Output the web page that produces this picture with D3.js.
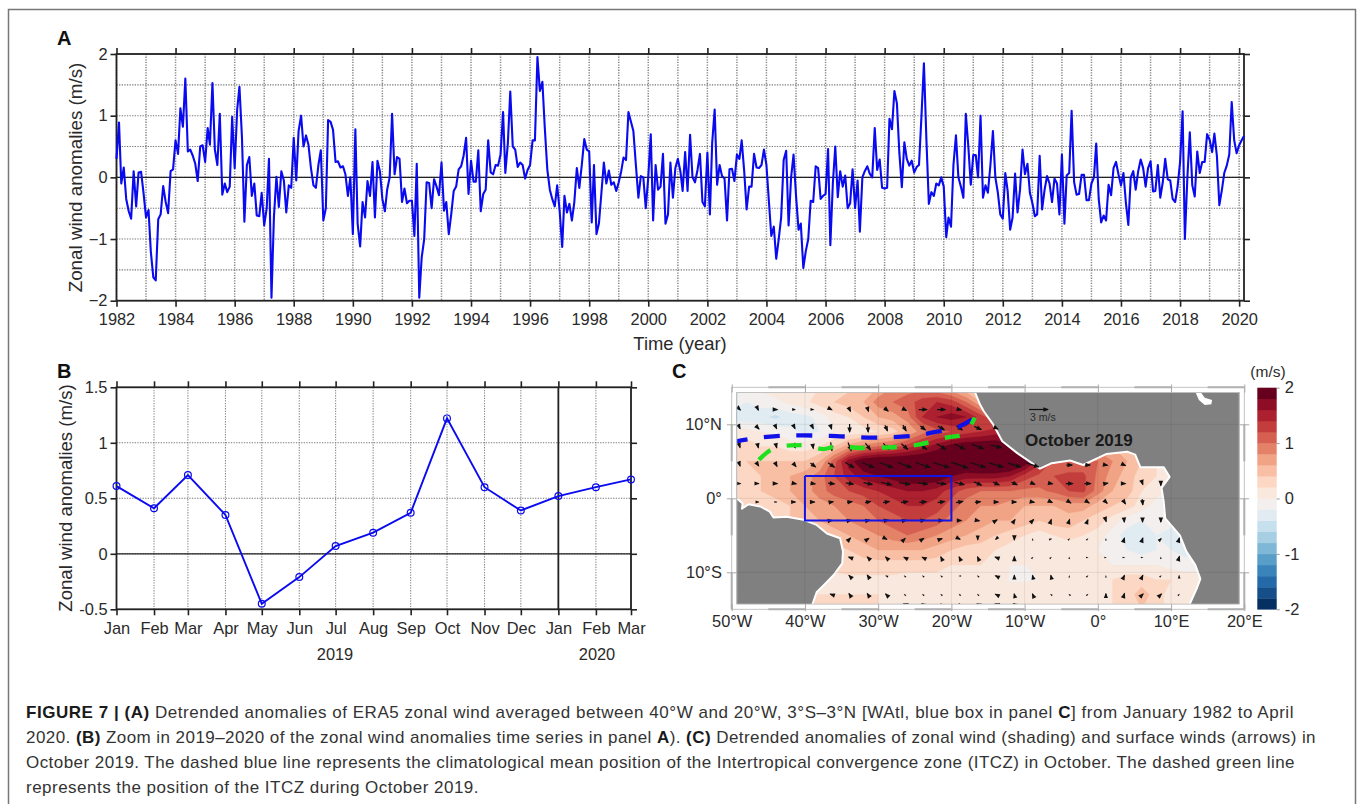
<!DOCTYPE html>
<html><head><meta charset="utf-8">
<script src="https://cdn.jsdelivr.net/npm/d3@7"></script>
<style>
html,body{margin:0;padding:0;background:#fff}
svg{display:block}
text{font-family:"Liberation Sans",Arial,sans-serif;fill:#2a2a2a}
</style></head><body><div id="chart"></div>
<script>
// ---------- Panel A: monthly anomalies Jan 1982 .. Dec 2018 (2019-20 come from panel B arrays)
const monthlyA = [
 0.3,0.89,-0.1,0.16,-0.35,-0.55,-0.67,0.1,-0.47,0.08,0.09,-0.25,
 -0.65,-0.53,-1.2,-1.62,-1.67,-0.68,-0.6,-0.14,-0.4,-0.58,0.1,0.13,
 0.6,0.38,1.12,0.82,1.6,0.42,0.45,0.35,0.22,-0.06,0.5,0.52,
 0.25,0.8,0.53,1.53,0.45,0.2,1.03,-0.28,-0.1,-0.24,-0.15,0.98,
 0.15,1.1,1.47,0.65,-0.72,0.2,0.33,-0.3,-0.1,-0.62,-0.63,-0.25,
 -0.78,-0.5,0.3,-1.95,-0.65,0.01,-0.48,0.1,-0.05,-0.57,-0.13,-0.17,
 0.64,-0.05,0.75,1.0,0.5,0.68,0.53,0.15,-0.13,-0.17,0.2,0.44,
 -0.7,-0.5,0.93,0.9,0.77,0.25,0.26,0.16,0.18,0.05,-0.3,0,
 -0.92,0.78,-0.75,-1.12,-0.4,-0.65,-0.06,-0.3,0.25,-0.65,0.27,0.1,
 -0.35,-0.55,-0.2,0,1.03,0.05,0.33,0.3,-0.4,-0.18,-0.42,-0.38,
 -0.38,-0.95,0.22,-1.95,-1.3,-1.0,-0.08,-0.09,-0.5,-0.03,-0.15,-0.29,
 0.24,-0.54,-0.4,-0.92,-0.6,-0.22,-0.15,0.13,0.18,0.35,0.64,-0.27,
 0.27,-0.07,-0.07,0.44,-0.55,-0.27,-0.2,0.6,0.08,0.05,0.2,0.19,
 0.37,1.06,0.07,0.55,1.39,0.5,0.45,0.17,0.24,0.2,-0.02,0.12,
 0.2,0.6,0.6,1.95,1.4,1.55,0.8,0.13,-0.2,-0.35,-0.47,-0.13,
 -0.55,-1.13,-0.3,-0.57,-0.43,-0.7,-0.4,0.15,-0.17,0.2,0.62,0.45,
 0.42,-0.73,0.2,-0.92,-0.75,-0.25,0.24,-0.1,0.11,-0.12,-0.08,-0.22,
 -0.08,0.1,0.32,0.28,1.06,0.9,0.75,0.2,-0.33,0.02,0,-0.5,
 0,0.7,-0.7,0.2,-0.2,-0.15,0.38,-0.75,-0.6,0.24,-0.33,0.15,
 0.3,0.1,-0.22,0.41,-0.22,0.69,0,-0.08,0.12,0.38,-0.4,-0.47,
 0.4,-0.6,0.55,1.1,-0.12,0.2,0.02,-0.02,-0.7,0.13,0.14,-0.06,
 0.37,0.3,0.6,0.1,-0.52,-0.15,-0.15,0.38,0.16,0.15,0.2,0.45,
 0.2,-0.4,-0.95,-0.8,-1.32,-1.0,-0.65,0.28,0.43,-0.78,0,0.37,
 -0.3,-0.85,-0.75,-1.47,-1.2,-1.0,-0.38,-0.4,0.18,0.15,-0.35,-0.3,
 -0.27,0.46,-1.1,-0.1,0.5,-0.32,0.1,-0.15,0.03,-0.5,-0.42,0.13,
 -0.5,-0.05,-0.88,0,0.1,0.18,0.06,0,0.8,0.12,0.29,-0.17,
 -0.18,-0.17,0.95,0.78,1.4,1.2,0.4,-0.16,0.57,0.3,0.19,0.27,
 0.08,0.17,0.2,1.0,1.85,0.6,-0.43,-0.24,-0.3,-0.1,-0.13,0,
 -0.15,-0.97,-0.65,-0.8,0.2,0.68,0,-0.15,-0.33,1.03,0.5,-0.12,
 0.36,0.36,0,1.0,-0.33,-0.13,-0.25,0.2,0.75,0,-0.25,-0.6,
 -0.67,0.07,-0.22,-0.85,-0.65,0.06,-0.57,-0.2,0.45,0.05,0.22,-0.25,
 -0.42,-0.63,-0.6,0.35,-0.52,-0.2,0.02,-0.1,-0.4,-0.02,-0.1,-0.6,
 0.37,-0.75,0.03,0.07,1.08,-0.08,-0.28,-0.27,0.04,0.04,-0.37,-0.37,
 -0.1,0,0.55,-0.35,-0.73,-0.62,-0.7,-0.12,-0.29,0.15,0.25,0.05,
 -0.13,0.07,-0.4,-0.77,0,0.1,-0.2,0.1,0.29,0.15,-0.15,0.15,
 0.26,-0.23,-0.22,0.2,-0.33,-0.08,0.3,-0.03,-0.05,-0.35,-0.4,-0.15,
 0.25,1.07,-1.0,0,0.73,-0.13,-0.31,0.42,0.07,0.25,0.25,0.7
];
const yearTicksA = [1982,1984,1986,1988,1990,1992,1994,1996,1998,2000,2002,2004,2006,2008,2010,2012,2014,2016,2018,2020];
const yTicksA = [-2,-1,0,1,2];
const yGridA = [-2,-1.5,-1,-0.5,0,0.5,1,1.5,2];

// ---------- Panel B
const monthNamesB = ["Jan","Feb","Mar","Apr","May","Jun","Jul","Aug","Sep","Oct","Nov","Dec","Jan","Feb","Mar"];
const valuesB = [0.61,0.41,0.71,0.35,-0.45,-0.21,0.07,0.19,0.37,1.22,0.6,0.39,0.52,0.6,0.67];
const yTicksB = [-0.5,0,0.5,1,1.5];

// ---------- Panel C: zonal wind anomaly field, 2 degree grid
const fieldLons = d3.range(-50,21,2);
const fieldLats = [15,13,11,9,7,5,3,1,-1,-3,-5,-7,-9,-11,-13,-15];
const fieldValues = [
 .05,.05,.05,.1,.1,.15, .2,.3,.35,.4,.6,.8, .9,.9,.8,.6,.4,-.2, -.3,0,0,0,0,0, 0,0,0,0,0,0, 0,0,0,0,0,0,
 -.05,-.2,-.1,-.05,.05,.15, .3,.4,.5,.6,.9,1, 1.1,1.3,1.4,1.3,1,.6, .4,0,0,0,0,0, 0,0,0,0,0,0, 0,0,0,0,0,0,
 -.3,-.4,-.35,-.45,-.3,-.25, -.15,.1,.2,.4,.6,.7, .9,1.4,1.6,1.7,1.6,1.3, 1,.8,.5,0,0,0, 0,0,0,0,0,0, 0,0,0,0,0,0,
 .1,.1,0,-.05,-.15,-.25, -.2,0,.05,.1,.2,.3, .6,.9,1.1,1.2,1.3,1.4, 1.5,1.4,1,.5,.5,.5, 0,0,0,0,0,0, 0,0,0,0,0,0,
 .3,.3,.2,.2,.1,.1, .2,.4,.7,.9,1,1.1, 1.3,1.5,1.7,1.9,2,2, 2,1.9,1.5,1.2,1,.8, .7,.7,.6,.5,.4,.2, 0,0,0,0,0,0,
 .3,.4,.4,.4,.4,.4, .6,1.1,1.7,2,2.1,2.1, 2.1,2.1,2.1,2.1,2.1,2.2, 2.2,2.2,2,1.5,1.15,1.05, 1.05,1,.8,.6,.4,.2, 0,0,0,0,0,0,
 .3,.3,.4,.5,.6,.7, .9,1.2,1.5,1.7,1.8,1.9, 2,2,2,1.8,1.7,1.7, 1.7,1.6,1.3,1.15,1.2,1.25, 1.25,.95,.7,.5,.3,.2, 0,0,0,0,0,0,
 .3,.3,.4,.5,.6,.7, .9,1.1,1.2,1.3,1.4,1.5, 1.6,1.6,1.5,1.3,1.1,1, 1,1,.95,.95,1.05,1.2, 1.25,.9,.6,.5,.2,.1, -.1,-.1,0,0,0,0,
 .2,.2,.2,.3,.4,.6, .7,.8,.9,1,1.2,1.3, 1.4,1.4,1.3,1.1,.9,.8, .8,.7,.6,.6,.6,.7, .7,.5,.4,.3,.1,-.1, -.2,-.2,0,0,0,0,
 .2,.2,.2,.3,.4,.4, .6,.7,.8,.9,1,1.1, 1.2,1.2,1.1,.9,.8,.7, .6,.6,.5,.4,.5,.5, .4,.3,.1,-.1,-.2,-.1, -.1,-.2,-.2,0,0,0,
 .2,.2,.2,.3,.4,.4, .4,.5,.6,.7,.8,.9, 1,.9,.8,.7,.6,.5, .4,.3,.2,.1,.2,.3, .2,.1,-.1,-.3,-.3,-.2, -.3,-.3,-.2,0,0,0,
 .3,.3,.3,.3,.3,.3, .3,.3,.4,.5,.6,.6, .6,.6,.5,.4,.3,.3, .2,.1,.05,.1,.1,0, 0,0,-.1,-.2,-.3,-.2, -.2,-.3,-.2,0,0,0,
 .2,.2,.2,.2,.2,.2, .2,.3,.3,.3,.3,.3, .3,.3,.3,.2,.2,.2, .1,0,0,.1,.1,0, 0,0,0,0,0,0, -.1,-.1,-.1,0,0,0,
 .1,.1,.1,.1,.1,.1, .1,.1,.15,.15,.15,.15, .1,.1,.1,.1,.1,.15, .1,-.02,-.02,0,.1,.1, .1,.1,.2,.3,.3,.2, .2,.1,.1,0,0,0,
 .2,.2,.2,.2,.2,.2, .2,.2,.2,.2,.2,.1, .1,.1,0,0,.1,.1, .05,.1,.1,.1,.2,.1, .1,.1,.2,.3,.5,.3, .1,.1,.1,0,0,0,
 .2,.2,.2,.2,.2,.2, .2,.2,.2,.2,.2,.1, .1,.1,0,0,.1,.1, .1,.1,.1,.1,.2,.1, .1,.1,.2,.3,.4,.3, .1,.1,0,0,0,0
];
const shadeLevels = d3.range(20).map(i => +(-2 + i*0.2).toFixed(1));
const shadeColors = d3.range(20).map(i => i>=10 ? d3.interpolateRdBu(.45*(1-(i-10)/9)) : d3.interpolateRdBu(.5+.5*(9-i)/9));

// Coasts and lines in lon/lat
const southAmerica = [[-52,-0.1],[-49.2,-0.1],[-48.5,-0.7],[-48.6,-1.4],[-47.7,-0.8],[-46.1,-1.1],[-44.8,-1.8],[-44.3,-2.6],[-42.5,-2.5],[-40.2,-2.9],[-38.4,-3.6],[-37,-4.75],[-35.2,-5.4],[-34.8,-7.2],[-34.9,-8.8],[-36.1,-10.4],[-37.5,-11.8],[-38.4,-12.7],[-39,-14.4],[-39,-17],[-52,-17]];
const africa = [[-16.9,17],[-16.8,14.4],[-16.1,12.7],[-15.6,11.8],[-14.3,10],[-13.05,7.7],[-11,6.1],[-7.9,4],[-6.3,4.75],[-3.8,5.1],[-2,4.5],[1.2,6],[4,6.3],[5.1,5.9],[5.8,4.2],[9,4.2],[9.8,2.9],[8.7,1.4],[9,-0.5],[9.2,-2.7],[11.2,-5],[12.1,-7.2],[13.3,-9],[14,-10.9],[13.5,-12.2],[12.5,-14.4],[12,-17],[22,-17],[22,17]];
const lakeChad = [[13.3,14.4],[14,14.4],[14.6,13.6],[15.6,13.3],[15.5,12.7],[14.6,12.6],[13.8,13.3]];
const itczClim = [[-50,7.6],[-43.9,8.4],[-40.2,8.5],[-35.7,8.4],[-30.7,8.2],[-25.7,8.4],[-22,9],[-18.9,9.7],[-16.8,10.9]];
const itcz2019 = [[-46.3,5.2],[-44.5,6.6],[-42,7.15],[-40.2,7.2],[-37.5,6.65],[-35.7,7],[-32,6.8],[-28,6.9],[-24.3,7.3],[-20.7,8.2],[-18.4,8.6],[-16.8,10.9]];
const wAtlBox = [[-40,3],[-20,3],[-20,-3],[-40,-3],[-40,3]];

// Wind arrows (m/s), grid every 2.5 degrees; _ = land
const _ = null;
const windLons = d3.range(25).map(i => -48.9 + 2.5*i);
const windLats = [12,9.5,7,4.5,2,-0.5,-3,-5.5,-8,-10.5,-13,-14.3];
const windU = [
 [.2,.1,.3,.1,.1,.2,.3,.2,.6,.6,1.3,1.3,.6,_,_,_,_,_,_,_,_,_,_,_,_],
 [.1,.3,.1,.1,.1,.1,0,.1,.4,.5,.8,1,.9,1.1,.6,_,_,_,_,_,_,_,_,_,_],
 [.1,.1,.1,.2,.1,.2,.5,.8,.9,1,1.2,1.4,1.6,1.8,1.6,_,_,_,_,_,_,_,_,_,_],
 [.1,.2,.2,.4,.8,1,1.4,1.9,2.1,2.2,2.3,2.5,2.6,2.4,2.2,2,1.9,_,.9,.8,.5,.4,_,_,_],
 [.2,.2,.3,.5,.7,1,1.2,1.4,1.7,1.7,1.5,1.5,1.5,1.2,1,.9,.7,.5,1.1,1,.6,.4,.1,0,_],
 [_,.1,.05,.2,.5,.6,.8,.9,1,1.1,1.1,1.1,1.1,.9,.7,.6,.5,.4,.5,.5,.4,.4,.1,_,_],
 [_,_,_,_,_,.3,.5,.6,.7,.6,.7,.6,.6,.5,.3,.2,.3,.1,.1,.1,.1,.05,0,0,_],
 [_,_,_,_,_,_,.3,.3,.2,.2,.3,.3,.2,0,-.1,0,0,.05,.02,.02,0,.1,.1,.1,.1],
 [_,_,_,_,_,_,-.3,-.2,-.2,-.2,-.2,-.1,-.1,-.1,-.3,0,.02,.02,0,.02,.02,.02,.02,0,.1],
 [_,_,_,_,_,_,-.2,-.2,-.05,-.02,-.02,-.02,-.02,-.02,-.2,0,-.05,-.05,0,.02,0,.1,.1,.02,0],
 [_,_,_,_,_,-.3,-.2,-.2,-.2,-.02,-.02,-.02,-.02,-.02,-.2,-.05,-.1,-.02,-.02,.02,0,.1,.2,.2,.02],
 [_,_,_,_,_,_,_,_,_,-.3,-.3,-.05,-.1,-.2,-.3,-.3,_,_,_,_,_,_,_,_,_]
];
const windV = [
 [-.2,-.2,0,0,0,-.1,-.6,-.6,-.5,-.3,0,0,-.1,_,_,_,_,_,_,_,_,_,_,_,_],
 [-.2,-.3,-.2,-.2,-.2,-.3,-1.3,-1.3,-.9,-.9,-.6,-.6,-.6,-.5,-.3,_,_,_,_,_,_,_,_,_,_],
 [-.3,-.4,-.4,-.4,-.6,-1.3,-1.3,-1.1,-1,-.9,-.9,-.9,-.8,-.7,-.4,_,_,_,_,_,_,_,_,_,_],
 [-.3,-.3,-.4,-.5,-.6,-.7,-.8,-.8,-.8,-.8,-.8,-.8,-.9,-.8,-.7,-.6,-.6,_,0,0,-.1,-.2,_,_,_],
 [0,0,0,-.1,-.1,-.1,-.2,-.3,-.4,-.3,-.2,-.2,-.4,-.5,-.4,-.4,-.3,-.1,0,0,.1,0,-.3,-.6,_],
 [_,0,0,0,0,.1,.1,.2,.2,.2,.1,.2,.2,.1,0,0,-.1,-.2,-.3,-.3,-.4,-.6,-.9,_,_],
 [_,_,_,_,_,.05,.1,.1,.1,.1,.1,0,0,-.1,.2,.3,.3,.3,.3,.25,-.3,-.5,-.5,-.5,_],
 [_,_,_,_,_,_,.3,.2,-.1,.2,.2,.1,-.1,-.2,-.1,-.3,.02,.02,.02,.02,.02,.3,.3,.1,.3],
 [_,_,_,_,_,_,.1,.2,.2,.1,.1,.2,.2,.2,.1,.3,.02,.02,.02,0,0,0,0,.02,.3],
 [_,_,_,_,_,_,.2,.3,.02,.02,.02,.02,0,.02,.1,.2,.2,.2,.02,.02,.02,.2,.2,.02,.1],
 [_,_,_,_,_,.1,.3,.3,.2,.02,.02,.02,.02,.02,.1,.2,.2,.02,.02,.02,.2,.3,.2,.2,.02],
 [_,_,_,_,_,_,_,_,_,.1,.2,.1,.1,.1,.1,.2,_,_,_,_,_,_,_,_,_]
];
const lonTicks = [-50,-40,-30,-20,-10,0,10,20];
const latTicks = [-10,0,10];
const cbarTicks = [-2,-1,0,1,2];

// Caption runs: [text, bold]
const captionLines = [
 [["FIGURE 7 | (A)",1],[" Detrended anomalies of ERA5 zonal wind averaged between 40°W and 20°W, 3°S–3°N [WAtl, blue box in panel ",0],["C",1],["] from January 1982 to April",0]],
 [["2020. ",0],["(B)",1],[" Zoom in 2019–2020 of the zonal wind anomalies time series in panel ",0],["A",1],["). ",0],["(C)",1],[" Detrended anomalies of zonal wind (shading) and surface winds (arrows) in",0]],
 [["October 2019. The dashed blue line represents the climatological mean position of the Intertropical convergence zone (ITCZ) in October. The dashed green line",0]],
 [["represents the position of the ITCZ during October 2019.",0]]
];
const captionEnds = [1294,1316,1295,479];

// ---------- Drawing
const W = 1357, H = 804, ink = "#222", blue = "#0a0af0";
const svg = d3.select("#chart").append("svg").attr("width",W).attr("height",H).attr("viewBox",`0 0 ${W} ${H}`);
svg.append("rect").attr("width",W).attr("height",H).attr("fill","#fff");
svg.append("path").attr("d",`M8.5,${H}V9.5H1355.5V${H}`).attr("fill","none").attr("stroke","#777").attr("stroke-width",1.5);

function label(g,x,y,t,o={}){
  const s = g.append("text").attr("x",x).attr("y",y).text(t)
    .attr("font-size",o.size||16).attr("text-anchor",o.anchor||"middle");
  if(o.weight) s.attr("font-weight",o.weight);
  if(o.rotate) s.attr("transform",`rotate(-90 ${x} ${y})`);
  if(o.fill) s.style("fill",o.fill);
  return s;
}
function styleAxis(g,w,noText){
  g.selectAll(".domain").remove();
  g.selectAll(".tick line").attr("stroke",ink).attr("stroke-width",w||1.6);
  const t = g.selectAll(".tick text").attr("fill",null).style("font-size","16.4px");
  if(noText) t.remove();
}
function timePanel(o){
  const {x,y,xGrid,xTicks,yGrid,yTicks,fmt,yfmt} = o;
  const [x0,x1] = x.range(), [y1,y0] = y.range();
  const g = svg.append("g");
  g.append("g").selectAll("line").data(xGrid).join("line")
    .attr("x1",d=>x(d)).attr("x2",d=>x(d)).attr("y1",y0).attr("y2",y1)
    .attr("stroke","#8a8a8a").attr("stroke-width",o.gridW||1.1).attr("stroke-dasharray","1.3 1.3");
  g.append("g").selectAll("line").data(yGrid).join("line")
    .attr("x1",x0).attr("x2",x1).attr("y1",d=>y(d)).attr("y2",d=>y(d))
    .attr("stroke","#777").attr("stroke-width",1.1).attr("stroke-dasharray","1.3 1.3");
  g.append("line").attr("x1",x0).attr("x2",x1).attr("y1",y(0)).attr("y2",y(0)).attr("stroke",ink).attr("stroke-width",1.2);
  const mk = (a,tr,noText)=>{const s=g.append("g").attr("transform",tr).call(a); styleAxis(s,1.6,noText); return s;};
  mk(d3.axisBottom(x).tickValues(xTicks).tickSize(6).tickPadding(o.xPad||7).tickFormat(fmt),`translate(0,${y1})`);
  mk(d3.axisTop(x).tickValues(xTicks).tickSize(6).tickFormat(""),`translate(0,${y0})`,true);
  mk(d3.axisLeft(y).tickValues(yTicks).tickSize(6).tickPadding(3).tickFormat(yfmt),`translate(${x0},0)`);
  mk(d3.axisRight(y).tickValues(yTicks).tickSize(6).tickFormat(""),`translate(${x1},0)`,true);
  g.append("rect").attr("x",x0).attr("y",y0).attr("width",x1-x0).attr("height",y1-y0)
    .attr("fill","none").attr("stroke",ink).attr("stroke-width",1.8);
  return g;
}

// Panel A
const startA = Date.UTC(1982,0,1);
const allA = monthlyA.concat(valuesB);
const dateA = i => new Date(Date.UTC(1982,i,1));
const xA = d3.scaleUtc().domain([startA,Date.UTC(2020,2,1)]).range([116.5,1244]);
const yA = d3.scaleLinear().domain([-2,2]).range([300.7,54]);
const gA = timePanel({x:xA,y:yA,
  xGrid:d3.range(1982,2021).map(v=>new Date(Date.UTC(v,0,1))),
  xTicks:yearTicksA.map(v=>new Date(Date.UTC(v,0,1))),
  yGrid:yGridA,yTicks:yTicksA,fmt:d3.utcFormat("%Y"),yfmt:d3.format("d"),gridW:1.5});
gA.append("path").datum(allA)
  .attr("d",d3.line().x((d,i)=>xA(dateA(i))).y(d=>yA(d)))
  .attr("fill","none").attr("stroke",blue).attr("stroke-width",2.1).attr("stroke-linejoin","round");
label(svg,82,177.5,"Zonal wind anomalies (m/s)",{rotate:1,size:18.8});
label(svg,680,350,"Time (year)",{size:18.4});
label(svg,57,45,"A",{anchor:"start",size:20,weight:"bold",fill:"#111"});

// Panel B
const datesB = monthNamesB.map((m,i)=>new Date(Date.UTC(2019,i,1)));
const xB = d3.scaleUtc().domain([datesB[0],datesB[14]]).range([116.5,631]);
const yB = d3.scaleLinear().domain([-0.5,1.5]).range([609.3,387.3]);
const gB = timePanel({x:xB,y:yB,xGrid:datesB,xTicks:datesB,yGrid:yTicksB,yTicks:yTicksB,
  fmt:(d,i)=>monthNamesB[i],yfmt:d=>String(d),xPad:7});
gB.append("line").attr("x1",xB(datesB[12])).attr("x2",xB(datesB[12])).attr("y1",387.3).attr("y2",609.3).attr("stroke",ink).attr("stroke-width",1.8);
gB.append("path").datum(valuesB)
  .attr("d",d3.line().x((d,i)=>xB(datesB[i])).y(d=>yB(d)))
  .attr("fill","none").attr("stroke",blue).attr("stroke-width",1.9);
gB.append("g").selectAll("circle").data(valuesB).join("circle")
  .attr("cx",(d,i)=>xB(datesB[i])).attr("cy",d=>yB(d)).attr("r",3.4)
  .attr("fill","none").attr("stroke",blue).attr("stroke-width",1.2);
label(svg,72,498,"Zonal wind anomalies (m/s)",{rotate:1,size:18.6});
label(svg,335,660,"2019",{size:16.4});
label(svg,597,660,"2020",{size:16.4});
label(svg,57,378,"B",{anchor:"start",size:20,weight:"bold",fill:"#111"});

// Panel C
const lon = d3.scaleLinear().domain([-50,20]).range([731.7,1244.3]);
const lat = d3.scaleLinear().domain([-15,15]).range([609.3,387.3]);
const gC = svg.append("g");
const inner = {x:lon(-49.3),y:lat(14.3),w:lon(19.3)-lon(-49.3),h:lat(-14.3)-lat(14.3)};
svg.append("defs").append("clipPath").attr("id","mapClip").append("rect")
  .attr("x",inner.x).attr("y",inner.y).attr("width",inner.w).attr("height",inner.h);
const mapG = gC.append("g").attr("clip-path","url(#mapClip)");
const contours = d3.contours().size([fieldLons.length,fieldLats.length]).thresholds(shadeLevels)(fieldValues);
const gridPath = d3.geoPath(d3.geoTransform({point(px,py){
  this.stream.point(lon(-50+(px-.5)*2),lat(15-(py-.5)*2));
}}));
mapG.append("g").selectAll("path").data(contours).join("path")
  .attr("d",gridPath).attr("fill",(d,i)=>shadeColors[i]).attr("stroke",(d,i)=>shadeColors[i]).attr("stroke-width",.3);
const lineLL = d3.line().x(d=>lon(d[0])).y(d=>lat(d[1]));
mapG.selectAll(".land").data([southAmerica,africa]).join("path").attr("class","land")
  .attr("d",d=>lineLL(d)+"Z").attr("fill","#808080").attr("stroke","#fff").attr("stroke-width",2).attr("stroke-linejoin","round");
mapG.append("path").attr("d",lineLL(lakeChad)+"Z").attr("fill","#fff");
// grid lines
const gridC = gC.append("g").attr("stroke","#000").attr("stroke-opacity",.1).attr("stroke-width",.8);
gridC.selectAll(".v").data(lonTicks.slice(1,-1)).join("line").attr("class","v")
  .attr("x1",d=>lon(d)).attr("x2",d=>lon(d)).attr("y1",inner.y).attr("y2",inner.y+inner.h);
gridC.selectAll(".h").data(latTicks).join("line").attr("class","h")
  .attr("y1",d=>lat(d)).attr("y2",d=>lat(d)).attr("x1",inner.x).attr("x2",inner.x+inner.w);
// arrows
const arrowScale = 6.3;
function arrow(g,cx,cy,u,v){
  const dx=u*arrowScale, dy=-v*arrowScale, len=Math.hypot(dx,dy), a=Math.atan2(dy,dx);
  const x1=cx-dx/2,y1=cy-dy/2,x2=cx+dx/2,y2=cy+dy/2, h=Math.min(4.6,1.4+len*2.2), w=h*.5;
  g.append("line").attr("x1",x1).attr("y1",y1).attr("x2",x2).attr("y2",y2).attr("stroke","#111").attr("stroke-width",1.25);
  g.append("path").attr("fill","#111").attr("d",
    `M${x2+Math.cos(a)*1},${y2+Math.sin(a)*1}`+
    `L${x2-Math.cos(a)*h-Math.sin(a)*w},${y2-Math.sin(a)*h+Math.cos(a)*w}`+
    `L${x2-Math.cos(a)*h+Math.sin(a)*w},${y2-Math.sin(a)*h-Math.cos(a)*w}Z`);
}
const arrowsG = mapG.append("g");
windLats.forEach((la,r)=>windLons.forEach((lo,c)=>{
  const u=windU[r][c], v=windV[r][c];
  if(u===null||v===null) return;
  arrow(arrowsG,lon(lo),lat(la),u,v);
}));
// blue box & ITCZ
gC.append("path").attr("d",lineLL(wAtlBox)).attr("fill","none").attr("stroke","#1414e6").attr("stroke-width",2);
const curve = d3.line().x(d=>lon(d[0])).y(d=>lat(d[1])).curve(d3.curveMonotoneX);
mapG.append("path").attr("d",curve(itczClim)).attr("fill","none").attr("stroke","#1010e8").attr("stroke-width",4.3).attr("stroke-dasharray","16 16.5");
mapG.append("path").attr("d",curve(itcz2019)).attr("fill","none").attr("stroke","#1fe01f").attr("stroke-width",4.3).attr("stroke-dasharray","15 17");
// frame
const fr = gC.append("g").attr("fill","none").attr("stroke","#bdbdbd");
fr.append("rect").attr("x",lon(-50)).attr("y",lat(15)).attr("width",lon(20)-lon(-50)).attr("height",lat(-15)-lat(15)).attr("stroke-width",.9);
fr.append("rect").attr("x",inner.x).attr("y",inner.y).attr("width",inner.w).attr("height",inner.h).attr("stroke-width",.9);
d3.range(-45,20,10).forEach(a=>{
  [15,-15].forEach(b=>fr.append("line").attr("x1",lon(a)).attr("x2",lon(a+5)).attr("y1",lat(b)).attr("y2",lat(b)).attr("stroke-width",2).attr("stroke","#b0b0b0"));
});
d3.range(-15,15,10).forEach(a=>{
  [-50,20].forEach(b=>fr.append("line").attr("y1",lat(a)).attr("y2",lat(a+5)).attr("x1",lon(b)).attr("x2",lon(b)).attr("stroke-width",2).attr("stroke","#b0b0b0"));
});
const frameAxis = (a,tr)=>{
  const s=gC.append("g").attr("transform",tr).call(a);
  s.selectAll(".domain").remove();
  s.selectAll(".tick line").attr("stroke","#a8a8a8").attr("stroke-width",1);
  s.selectAll(".tick text").attr("fill",null).style("font-size","16.4px");
  return s;
};
const lonFmt = d=> d<0?`${-d}°W`:d>0?`${d}°E`:"0°";
const latFmt = d=> d<0?`${-d}°S`:d>0?`${d}°N`:"0°";
frameAxis(d3.axisBottom(lon).tickValues(lonTicks).tickSize(7).tickPadding(4).tickFormat(lonFmt),`translate(0,${lat(-14.3)})`);
frameAxis(d3.axisTop(lon).tickValues(lonTicks).tickSize(8).tickFormat(""),`translate(0,${lat(14.3)})`);
frameAxis(d3.axisLeft(lat).tickValues(latTicks).tickSize(10).tickPadding(5).tickFormat(latFmt),`translate(${lon(-49.3)},0)`);
frameAxis(d3.axisRight(lat).tickValues(latTicks).tickSize(10).tickFormat(""),`translate(${lon(19.3)},0)`);
// annotation
arrow(gC,lon(-8.1),lat(12),3,0);
label(gC,1030,421,"3 m/s",{anchor:"start",size:10.5});
label(gC,1025,446,"October 2019",{anchor:"start",size:17,weight:"bold",fill:"#1a1a1a"});
label(svg,672,378,"C",{anchor:"start",size:20,weight:"bold",fill:"#111"});

// Colour bar
const cbY = d3.scaleLinear().domain([-2,2]).range([609.3,387.7]);
const cb = svg.append("g");
cb.selectAll("rect").data(shadeLevels).join("rect")
  .attr("x",1257.3).attr("width",19.4)
  .attr("y",d=>cbY(d+0.2)).attr("height",d=>cbY(d)-cbY(d+0.2)+.3)
  .attr("fill",(d,i)=>shadeColors[i]);
const cbAx = cb.append("g").attr("transform","translate(1276.7,0)")
  .call(d3.axisRight(cbY).tickValues(cbarTicks).tickSize(3).tickPadding(5).tickFormat(String));
cbAx.selectAll(".domain").remove();
cbAx.selectAll(".tick line").attr("stroke","#999");
cbAx.selectAll(".tick text").attr("fill",null).style("font-size","16.4px");
label(svg,1268,377,"(m/s)",{size:15.5});

// Caption
const capBase = [718,743,768,793];
captionLines.forEach((runs,i)=>{
  const t = svg.append("text").attr("x",26).attr("y",capBase[i]).attr("font-size",17).style("fill","#333");
  runs.forEach(r=>t.append("tspan").text(r[0]).attr("font-weight",r[1]?"bold":"normal").style("fill",r[1]?"#1a1a1a":"#333"));
  const len = t.node().getComputedTextLength();
  const n = runs.map(r=>r[0]).join("").length;
  t.style("letter-spacing",((captionEnds[i]-26-len)/n)+"px");
});
</script></body></html>
